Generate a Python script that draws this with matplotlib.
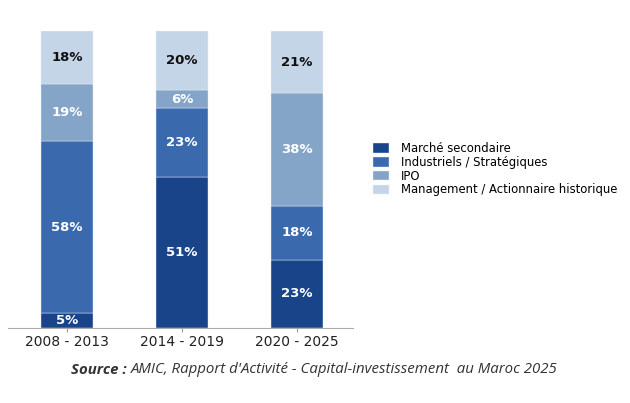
import matplotlib
matplotlib.use("Agg")
import matplotlib.pyplot as plt
import numpy as np

periods = ["2008 - 2013", "2014 - 2019", "2020 - 2025"]
series_names = ["Marché secondaire", "Industriels / Stratégiques", "IPO",
                "Management / Actionnaire historique"]
marche = [5, 51, 23]
industriels = [58, 23, 18]
ipo = [19, 6, 38]
management = [18, 20, 21]
values = [marche, industriels, ipo, management]
colors = ["#19448a", "#3a6aad", "#84a4c8", "#c5d5e8"]
label_colors = ["white", "white", "white", "#111111"]

fig = plt.figure(figsize=(6.3, 4.03), dpi=100)
ax = fig.add_axes([0.0127, 0.186, 0.5476, 0.737])

x = np.arange(len(periods))
bottom = np.zeros(len(periods))
for vals, col, name, lc in zip(values, colors, series_names, label_colors):
    ax.bar(x, vals, 0.45, bottom=bottom, color=col, label=name,
           edgecolor="#e8eef6", linewidth=0.3)
    for xi, b, v in zip(x, bottom, vals):
        ax.text(xi, b + v / 2, f"{v}%", ha="center", va="center",
                color=lc, fontsize=9.5, fontweight="bold", family="DejaVu Sans")
    bottom += np.array(vals)

ax.set_xlim(-0.513, 2.487)
ax.set_ylim(0, 100)
ax.set_xticks(x)
ax.set_xticklabels(periods, fontsize=10, color="#222222")
ax.tick_params(axis="x", length=3, color="#999999", pad=2)
ax.set_yticks([])
for s in ["top", "right", "left"]:
    ax.spines[s].set_visible(False)
ax.spines["bottom"].set_color("#aaaaaa")

fig.legend(loc="center left", bbox_to_anchor=(0.575, 0.58), frameon=False,
           fontsize=8.4, handlelength=1.4, handleheight=0.9, labelspacing=0.07,
           handletextpad=1.0)

t1 = fig.text(0.113, 0.082, "Source : ", fontsize=10.8, fontweight="bold",
              style="italic", color="#333333", family="Open Sans", va="center")
fig.canvas.draw()
bb = t1.get_window_extent()
fig.text(bb.x1 / fig.bbox.width, 0.082,
         "AMIC, Rapport d'Activité - Capital-investissement  au Maroc 2025",
         fontsize=10.8, style="italic", color="#333333", family="Open Sans",
         va="center")

fig.savefig("out.png", dpi=100)
